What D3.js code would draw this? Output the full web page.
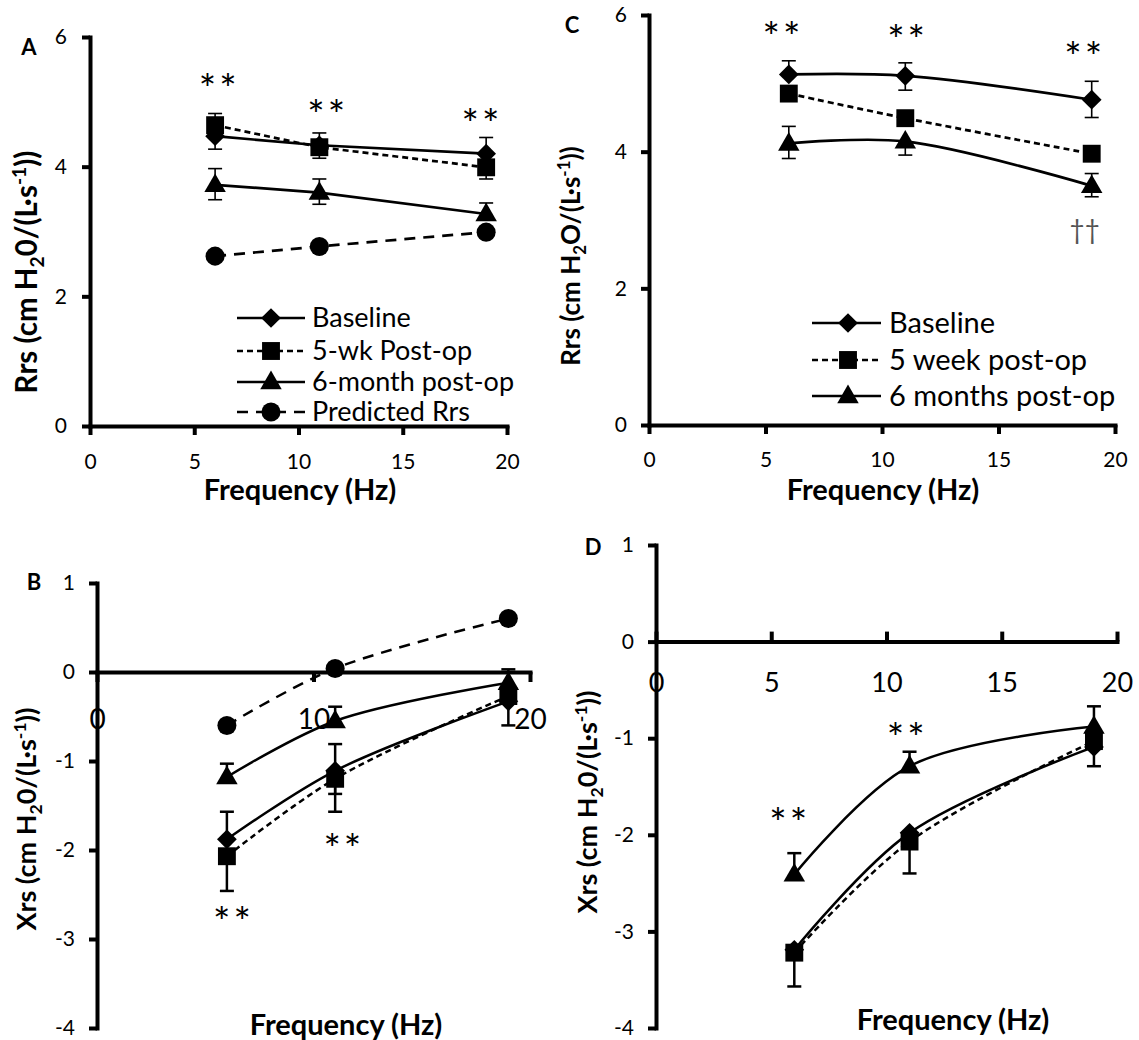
<!DOCTYPE html>
<html><head><meta charset="utf-8">
<script src="https://cdn.jsdelivr.net/npm/d3@7"></script>
<style>
body{margin:0;background:#fff;}
svg{display:block;font-family:Lato,"Open Sans",sans-serif;}
</style></head><body>
<svg id="c" width="1139" height="1040"></svg>
<script>
// ---------- data ----------
const freq = [6, 11, 19];
const xTicksAC = [0, 5, 10, 15, 20];
const xTicksB = [0, 10, 20];
const xTicksD = [0, 5, 10, 15, 20];
const yTicksRrs = [0, 2, 4, 6];
const yTicksXrs = [1, 0, -1, -2, -3, -4];

// Panel A (Rrs)
const legendA = ["Baseline", "5-wk Post-op", "6-month post-op", "Predicted Rrs"];
const A_baseline = [4.47, 4.33, 4.20];
const A_baselineUp = [0, 0, 0.25];
const A_baselineDn = [0.2, 0.2, 0];
const A_wk5 = [4.64, 4.30, 3.99];
const A_wk5Up = [0.18, 0.22, 0];
const A_wk5Dn = [0, 0, 0.18];
const A_m6 = [3.72, 3.60, 3.27];
const A_m6Up = [0.25, 0.21, 0.17];
const A_m6Dn = [0.23, 0.18, 0];
const A_pred = [2.62, 2.77, 2.99];
const A_starsX = [6.2, 11.4, 18.8];
const A_starsY = [5.32, 4.92, 4.78];

// Panel C (Rrs)
const legendC = ["Baseline", "5 week post-op", "6 months post-op"];
const C_baseline = [5.13, 5.11, 4.76];
const C_baselineUp = [0.2, 0.19, 0.27];
const C_baselineDn = [0, 0.21, 0.26];
const C_wk5 = [4.85, 4.49, 3.97];
const C_wk5Up = [0, 0, 0];
const C_wk5Dn = [0, 0, 0];
const C_m6 = [4.12, 4.15, 3.50];
const C_m6Up = [0.25, 0, 0.18];
const C_m6Dn = [0.22, 0.2, 0.16];
const C_starsX = [5.75, 11.1, 18.7];
const C_starsY = [5.8, 5.75, 5.5];
const C_daggerX = [18.7];
const C_daggerY = [2.85];

// Panel B (Xrs)
const B_baseline = [-1.88, -1.11, -0.33];
const B_baselineUp = [0.31, 0.3, 0];
const B_baselineDn = [0, 0.26, 0];
const B_wk5 = [-2.07, -1.2, -0.27];
const B_wk5Up = [0, 0, 0];
const B_wk5Dn = [0.39, 0.37, 0.33];
const B_m6 = [-1.18, -0.55, -0.12];
const B_m6Up = [0.15, 0.16, 0.15];
const B_m6Dn = [0, 0, 0];
const B_pred = [-0.6, 0.04, 0.6];
const B_starsX = [6.3, 11.4];
const B_starsY = [-2.72, -1.9];

// Panel D (Xrs)
const D_baseline = [-3.19, -1.98, -1.09];
const D_baselineUp = [0, 0, 0];
const D_baselineDn = [0, 0, 0.2];
const D_wk5 = [-3.22, -2.07, -1.03];
const D_wk5Up = [0, 0, 0];
const D_wk5Dn = [0.35, 0.33, 0];
const D_m6 = [-2.41, -1.29, -0.88];
const D_m6Up = [0.22, 0.15, 0.21];
const D_m6Dn = [0, 0, 0];
const D_starsX = [5.8, 10.9];
const D_starsY = [-1.79, -0.91];

// ---------- styles ----------
const STY = {
  baseline: {sym: "diamond", dash: null},
  wk5: {sym: "square", dash: "6,4"},
  m6: {sym: "triangle", dash: null},
  pred: {sym: "circle", dash: "11,8"}
};
function symPath(kind) {
  if (kind === "diamond") return d3.symbol(d3.symbolSquare, 195)();
  if (kind === "square") return d3.symbol(d3.symbolSquare, 320)();
  if (kind === "triangle") return d3.symbol(d3.symbolTriangle, 200)();
  return d3.symbol(d3.symbolCircle, 285)();
}
function drawSym(g, kind, cx, cy) {
  const t = kind === "diamond" ? `translate(${cx},${cy}) rotate(45)` :
            kind === "triangle" ? `translate(${cx},${cy + 1})` : `translate(${cx},${cy})`;
  g.append("path").attr("d", symPath(kind)).attr("transform", t).attr("fill", "#000");
}

const svg = d3.select("#c");

function drawPanel(p) {
  const g = svg.append("g");
  const x = d3.scaleLinear().domain([0, 20]).range(p.xr);
  const y = d3.scaleLinear().domain(p.yd).range(p.yr);

  const xa = d3.axisBottom(x).tickValues(p.xt).tickSizeInner(p.xTick).tickSizeOuter(0)
    .tickPadding(p.xPad).tickFormat(d => String(d));
  const gx = g.append("g").attr("transform", `translate(0,${y(0)})`).call(xa);
  const ya = d3.axisLeft(y).tickValues(p.yt).tickSizeInner(8).tickSizeOuter(0)
    .tickPadding(p.yPad).tickFormat(d => String(d));
  const gy = g.append("g").attr("transform", `translate(${x(0)},0)`).call(ya);
  gx.attr("font-size", p.xFont).attr("font-family", "Lato");
  gy.attr("font-size", 21).attr("font-family", "Lato");
  [gx, gy].forEach(a => {
    a.select(".domain").attr("stroke", "#000").attr("stroke-width", 4).attr("stroke-linecap", "square");
    a.selectAll(".tick line").attr("stroke", "#000").attr("stroke-width", 4);
    a.selectAll(".tick text").attr("fill", "#000");
  });

  const line = d3.line().x((d, i) => x(freq[i])).y(d => y(d))
    .curve(p.smooth ? d3.curveCatmullRom.alpha(0.5) : d3.curveLinear);

  p.series.forEach(s => {
    g.append("path").datum(s.v).attr("d", line).attr("fill", "none")
      .attr("stroke", "#000").attr("stroke-width", p.lw)
      .attr("stroke-dasharray", STY[s.k].dash);
  });
  p.series.forEach(s => {
    s.v.forEach((v, i) => {
      const cx = x(freq[i]);
      [[s.up ? s.up[i] : 0, 1], [s.dn ? s.dn[i] : 0, -1]].forEach(([e, sgn]) => {
        if (!e) return;
        const ye = y(v + sgn * e);
        g.append("line").attr("x1", cx).attr("x2", cx).attr("y1", y(v)).attr("y2", ye)
          .attr("stroke", "#000").attr("stroke-width", p.ew);
        g.append("line").attr("x1", cx - 7).attr("x2", cx + 7).attr("y1", ye).attr("y2", ye)
          .attr("stroke", "#000").attr("stroke-width", p.ew);
      });
    });
  });
  p.series.forEach(s => {
    s.v.forEach((v, i) => drawSym(g, STY[s.k].sym, x(freq[i]), y(v)));
  });

  // stars
  p.starsX.forEach((sx, i) => {
    g.append("text").attr("x", x(sx)).attr("y", y(p.starsY[i]) + 23)
      .attr("text-anchor", "middle").attr("font-size", 41).attr("letter-spacing", 3)
      .attr("fill", "#000").text("**");
  });
  if (p.dagX) {
    p.dagX.forEach((dx, i) => {
      g.append("text").attr("x", x(dx)).attr("y", y(p.dagY[i]) + 9)
        .attr("text-anchor", "middle").attr("font-size", 26).attr("fill", "#555").text("††");
    });
  }

  // panel letter
  g.append("text").attr("x", p.letter[1]).attr("y", p.letter[2]).attr("text-anchor", "middle")
    .attr("font-weight", "bold").attr("font-size", 22).text(p.letter[0]);

  // x title
  g.append("text").attr("x", p.xTitle[0]).attr("y", p.xTitle[1]).attr("dy", "0.35em")
    .attr("text-anchor", "middle").attr("font-weight", "bold").attr("font-size", 29)
    .text("Frequency (Hz)");

  // y title
  const yt = g.append("text").attr("transform", `translate(${p.yTitle[0]},${p.yTitle[1]}) rotate(-90)`)
    .attr("text-anchor", "middle").attr("dy", "0.35em").attr("font-weight", "bold")
    .attr("font-size", p.yTitle[2]);
  const fs = p.yTitle[2];
  yt.append("tspan").text(p.yTitle[3] + "H");
  yt.append("tspan").attr("font-size", fs * 0.65).attr("dy", fs * 0.22).text("2");
  yt.append("tspan").attr("dy", -fs * 0.22).text(p.yTitle[4] + "/(L·s");
  yt.append("tspan").attr("font-size", fs * 0.65).attr("dy", -fs * 0.38).text("-1");
  yt.append("tspan").attr("dy", fs * 0.38).text("))");

  // legend
  if (p.legend) {
    const L = p.legend;
    L.names.forEach((nm, i) => {
      const k = p.series[i].k;
      const ly = L.ys[i];
      g.append("line").attr("x1", L.x1).attr("x2", L.x2).attr("y1", ly).attr("y2", ly)
        .attr("stroke", "#000").attr("stroke-width", p.lw).attr("stroke-dasharray", STY[k].dash);
      drawSym(g, STY[k].sym, L.xm, ly);
      g.append("text").attr("x", L.xt).attr("y", ly).attr("dy", "0.35em")
        .attr("font-size", L.fs).attr("fill", "#000").text(nm);
    });
  }
}

drawPanel({
  xr: [90, 507], yd: [0, 6], yr: [426, 37], xt: xTicksAC, yt: yTicksRrs,
  xTick: 9, xPad: 19, xFont: 21, yPad: 15, smooth: false, lw: 2.7, ew: 1.6,
  series: [
    {k: "baseline", v: A_baseline, up: A_baselineUp, dn: A_baselineDn},
    {k: "wk5", v: A_wk5, up: A_wk5Up, dn: A_wk5Dn},
    {k: "m6", v: A_m6, up: A_m6Up, dn: A_m6Dn},
    {k: "pred", v: A_pred}
  ],
  starsX: A_starsX, starsY: A_starsY,
  letter: ["A", 29, 55], xTitle: [300, 490], yTitle: [27, 272, 29.5, "Rrs (cm ", "0"],
  legend: {names: legendA, x1: 237, x2: 305, xm: 271, xt: 312, ys: [318, 351, 382, 412], fs: 27}
});

drawPanel({
  xr: [649, 1115], yd: [0, 6], yr: [425, 15], xt: xTicksAC, yt: yTicksRrs,
  xTick: 9, xPad: 18, xFont: 21, yPad: 14, smooth: true, lw: 2.7, ew: 1.6,
  series: [
    {k: "baseline", v: C_baseline, up: C_baselineUp, dn: C_baselineDn},
    {k: "wk5", v: C_wk5, up: C_wk5Up, dn: C_wk5Dn},
    {k: "m6", v: C_m6, up: C_m6Up, dn: C_m6Dn}
  ],
  starsX: C_starsX, starsY: C_starsY, dagX: C_daggerX, dagY: C_daggerY,
  letter: ["C", 572, 33], xTitle: [883, 490], yTitle: [571, 256, 26, "Rrs (cm ", "O"],
  legend: {names: legendC, x1: 812, x2: 881, xm: 848, xt: 889, ys: [323, 360, 396], fs: 29}
});

drawPanel({
  xr: [97, 530], yd: [-4, 1], yr: [1028, 583], xt: xTicksB, yt: yTicksXrs,
  xTick: 10, xPad: 27, xFont: 28, yPad: 14, smooth: true, lw: 2.5, ew: 2.5,
  series: [
    {k: "baseline", v: B_baseline, up: B_baselineUp, dn: B_baselineDn},
    {k: "wk5", v: B_wk5, up: B_wk5Up, dn: B_wk5Dn},
    {k: "m6", v: B_m6, up: B_m6Up, dn: B_m6Dn},
    {k: "pred", v: B_pred}
  ],
  starsX: B_starsX, starsY: B_starsY,
  letter: ["B", 34, 590], xTitle: [346, 1025], yTitle: [27, 819, 27, "Xrs (cm  ", "0"]
});

drawPanel({
  xr: [656, 1117], yd: [-4, 1], yr: [1028, 545], xt: xTicksD, yt: yTicksXrs,
  xTick: -10, xPad: 31, xFont: 27, yPad: 14, smooth: true, lw: 2.5, ew: 2.5,
  series: [
    {k: "baseline", v: D_baseline, up: D_baselineUp, dn: D_baselineDn},
    {k: "wk5", v: D_wk5, up: D_wk5Up, dn: D_wk5Dn},
    {k: "m6", v: D_m6, up: D_m6Up, dn: D_m6Dn}
  ],
  starsX: D_starsX, starsY: D_starsY,
  letter: ["D", 593, 555], xTitle: [953, 1020], yTitle: [588, 802, 27, "Xrs (cm  ", "0"]
});
</script>
</body></html>
